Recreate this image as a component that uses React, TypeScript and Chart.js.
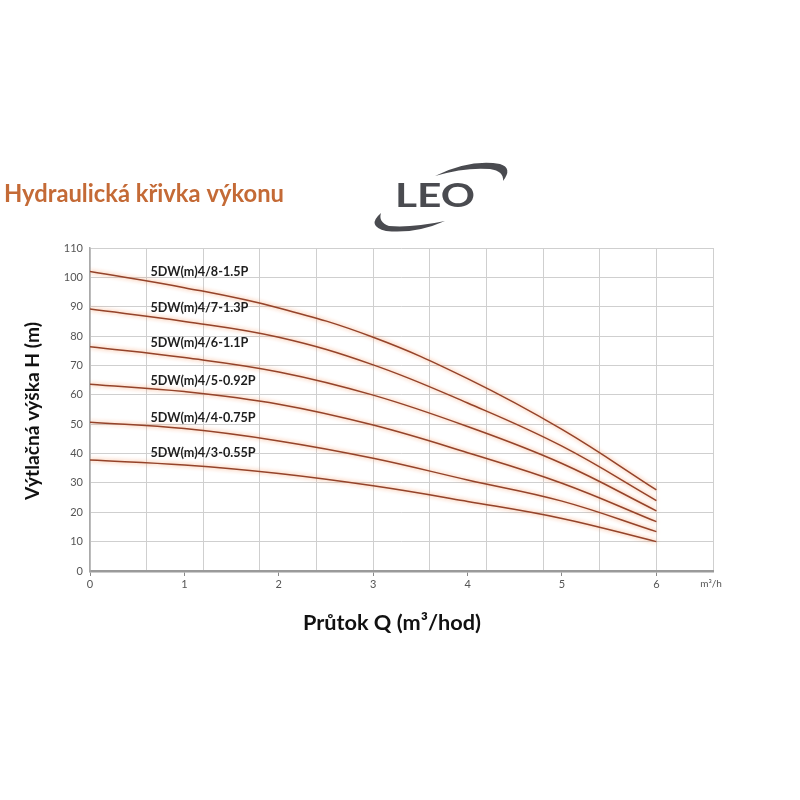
import React, { useEffect, useRef } from "react";
import { Chart, registerables } from "chart.js";

Chart.register(...registerables);

const flowQ = [0, 1, 2, 3, 4, 5, 6];
const seriesNames = [
  "5DW(m)4/8-1.5P",
  "5DW(m)4/7-1.3P",
  "5DW(m)4/6-1.1P",
  "5DW(m)4/5-0.92P",
  "5DW(m)4/4-0.75P",
  "5DW(m)4/3-0.55P",
];
const head48 = [102, 96.5, 89.6, 79.6, 65.5, 48.2, 27.6];
const head47 = [89.2, 85.0, 79.6, 70.2, 57.2, 42.5, 24.0];
const head46 = [76.4, 72.7, 67.8, 59.9, 49.2, 36.6, 20.5];
const head45 = [63.6, 61.1, 56.8, 49.7, 40.3, 29.9, 16.8];
const head44 = [50.7, 48.5, 44.3, 38.4, 31.0, 23.8, 13.4];
const head43 = [37.8, 36.1, 33.2, 29.0, 23.7, 17.9, 10.0];
const allHeads = [head48, head47, head46, head45, head44, head43];
const labelHeads = [101.7, 89.7, 77.6, 64.8, 52.0, 40.1];
const xTickValues = [0, 1, 2, 3, 4, 5, 6];
const xGridValues = [0, 0.6, 1.2, 1.8, 2.4, 3.0, 3.6, 4.2, 4.8, 5.4, 6.0, 6.6];

const FAMILY = 'Lato, "Open Sans", "DejaVu Sans", sans-serif';

function fitFont(ctx: CanvasRenderingContext2D, text: string, weight: string, width: number) {
  ctx.font = `${weight} 100px ${FAMILY}`;
  const w = ctx.measureText(text).width;
  const size = (100 * width) / w;
  return `${weight} ${size.toFixed(2)}px ${FAMILY}`;
}

const decorPlugin = {
  id: "decor",
  afterDraw(chart: any) {
    const ctx: CanvasRenderingContext2D = chart.ctx;
    ctx.save();
    // Title
    ctx.fillStyle = "#c46a36";
    ctx.textBaseline = "alphabetic";
    ctx.textAlign = "left";
    ctx.font = fitFont(ctx, "Hydraulická křivka výkonu", "bold", 280);
    ctx.fillText("Hydraulická křivka výkonu", 4, 202);

    // LEO logo
    ctx.fillStyle = "#4a4b50";
    ctx.font = `bold 32px ${FAMILY}`;
    const lw = ctx.measureText("LEO").width;
    ctx.save();
    ctx.translate(395, 207);
    ctx.scale(80 / lw, 1);
    ctx.fillText("LEO", 0, 0);
    ctx.restore();
    ctx.beginPath();
    ctx.moveTo(435, 176);
    ctx.quadraticCurveTo(470, 159, 500, 164);
    ctx.quadraticCurveTo(513, 168, 503, 181);
    ctx.quadraticCurveTo(504, 171, 490, 169);
    ctx.quadraticCurveTo(465, 167, 435, 176);
    ctx.fill();
    ctx.beginPath();
    ctx.moveTo(381, 213);
    ctx.quadraticCurveTo(366, 226, 386, 231);
    ctx.quadraticCurveTo(416, 234, 445, 221);
    ctx.quadraticCurveTo(412, 228, 389, 226);
    ctx.quadraticCurveTo(378, 222, 381, 213);
    ctx.fill();

    // Axis titles
    ctx.fillStyle = "#111";
    ctx.textAlign = "center";
    ctx.textBaseline = "middle";
    ctx.font = fitFont(ctx, "Průtok Q (m³/hod)", "bold", 178);
    ctx.fillText("Průtok Q (m³/hod)", 392, 623);
    ctx.save();
    ctx.translate(33, 411);
    ctx.rotate(-Math.PI / 2);
    ctx.font = fitFont(ctx, "Výtlačná výška H (m)", "bold", 178);
    ctx.fillText("Výtlačná výška H (m)", 0, 0);
    ctx.restore();

    // unit
    ctx.fillStyle = "#555";
    ctx.font = `10px ${FAMILY}`;
    ctx.fillText("m³/h", 711, 584);
    ctx.restore();
  },
  afterDatasetsDraw(chart: any) {
    const ctx: CanvasRenderingContext2D = chart.ctx;
    const xs = chart.scales.x;
    const ys = chart.scales.y;
    ctx.save();
    ctx.shadowColor = "rgba(0,0,0,0)";
    ctx.fillStyle = "#1e1e1e";
    ctx.textAlign = "left";
    ctx.textBaseline = "middle";
    ctx.font = fitFont(ctx, seriesNames[0], "bold", 98);
    seriesNames.forEach((name, i) => {
      ctx.fillText(name, xs.getPixelForValue(0.64), ys.getPixelForValue(labelHeads[i]));
    });
    ctx.restore();
  },
};

const shadowPlugin = {
  id: "lineShadow",
  beforeDatasetDraw(chart: any) {
    const ctx: CanvasRenderingContext2D = chart.ctx;
    ctx.save();
    ctx.shadowColor = "rgba(246,150,95,0.95)";
    ctx.shadowBlur = 4;
  },
  afterDatasetDraw(chart: any) {
    chart.ctx.restore();
  },
};

export default function App() {
  const ref = useRef<HTMLCanvasElement>(null);
  useEffect(() => {
    if (!ref.current) return;
    const chart = new Chart(ref.current, {
      type: "line",
      data: {
        datasets: allHeads.map((vals, i) => ({
          label: seriesNames[i],
          data: flowQ.map((q, j) => ({ x: q, y: vals[j] })),
          borderColor: "#94432a",
          borderWidth: 1.5,
          pointRadius: 0,
          tension: 0.4,
          fill: false,
        })),
      },
      options: {
        animation: false,
        responsive: false,
        layout: { padding: { top: 248, right: 87, left: 0, bottom: 0 } },
        plugins: { legend: { display: false }, tooltip: { enabled: false } },
        scales: {
          x: {
            type: "linear",
            position: "bottom",
            min: 0,
            max: 6.6,
            afterBuildTicks: (s: any) => {
              s.ticks = xGridValues.map((v) => ({ value: v }));
            },
            afterFit: (s: any) => {
              s.height = 0;
            },
            ticks: { display: false },
            grid: { color: "#cfcfcf", lineWidth: 1, drawTicks: false },
            border: { display: false },
          },
          x2: {
            type: "linear",
            position: "bottom",
            min: 0,
            max: 6.6,
            afterBuildTicks: (s: any) => {
              s.ticks = xTickValues.map((v) => ({ value: v }));
            },
            afterFit: (s: any) => {
              s.height = 229;
            },
            ticks: { color: "#555", font: { size: 11, family: FAMILY }, padding: 2 },
            grid: { drawOnChartArea: false, tickLength: 5, color: "#888", lineWidth: 1 },
            border: { display: true, color: "#9a9a9a", width: 2.5 },
          },
          y: {
            type: "linear",
            min: 0,
            max: 110,
            afterFit: (s: any) => {
              s.width = 90;
            },
            ticks: { stepSize: 10, color: "#555", font: { size: 11, family: FAMILY }, padding: 7 },
            grid: { color: "#cfcfcf", lineWidth: 1, drawTicks: false },
            border: { display: true, color: "#aaaaaa", width: 1.5 },
          },
        },
      },
      plugins: [shadowPlugin, decorPlugin],
    });
    return () => chart.destroy();
  }, []);
  return (
    <div style={{ position: "fixed", left: 0, top: 0, width: 800, height: 800, background: "#fff" }}>
      <canvas ref={ref} width={800} height={800} />
    </div>
  );
}
